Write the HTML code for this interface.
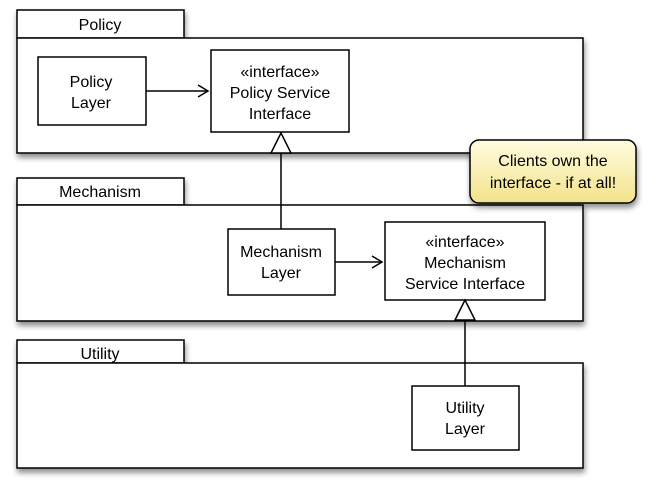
<!DOCTYPE html>
<html><head><style>
body{margin:0;width:653px;height:491px;background:#fff;overflow:hidden}
</style></head><body>
<svg width="653" height="491" xmlns="http://www.w3.org/2000/svg" font-family="Liberation Sans, Arial, sans-serif" font-size="16" text-anchor="middle">
<defs>
<filter id="sh" x="-10%" y="-10%" width="130%" height="140%"><feDropShadow dx="1" dy="4" stdDeviation="3" flood-color="#000" flood-opacity="0.45"/></filter>
<linearGradient id="yg" x1="0" y1="0" x2="0" y2="1"><stop offset="0" stop-color="#fffce0"/><stop offset="1" stop-color="#f3e28a"/></linearGradient>
</defs>
<g stroke="#000" stroke-width="1.5" fill="#fff" filter="url(#sh)">
<rect x="17" y="10" width="167" height="28"/><rect x="17" y="38" width="566" height="115"/>
<rect x="17" y="178" width="167" height="27"/><rect x="17" y="205" width="566" height="116"/>
<rect x="17" y="340" width="167" height="23"/><rect x="17" y="363" width="566" height="105"/>
</g>
<g stroke="#000" stroke-width="1.5" fill="#fff">
<rect x="38" y="57" width="108" height="68"/>
<rect x="211" y="50" width="138" height="82"/>
<rect x="228" y="229" width="107" height="66"/>
<rect x="385" y="222" width="160" height="78"/>
<rect x="412" y="386" width="107" height="64"/>
<line x1="146" y1="91" x2="208" y2="91"/><polyline points="198,85 208,91 198,97" fill="none"/>
<line x1="335" y1="262" x2="382" y2="262"/><polyline points="372,256 382,262 372,268" fill="none"/>
<line x1="281" y1="153" x2="281" y2="229"/><polygon points="281,133 271,153 291,153"/>
<line x1="465" y1="320" x2="465" y2="386"/><polygon points="465,300 455,320 475,320"/>
</g>
<rect x="470" y="140" width="166" height="63" rx="9" fill="url(#yg)" stroke="#000" stroke-width="1.5" filter="url(#sh)"/>
<g fill="#000">
<text x="100" y="30">Policy</text>
<text x="100" y="197">Mechanism</text>
<text x="100" y="359">Utility</text>
<text x="91" y="87">Policy</text><text x="91" y="108">Layer</text>
<text x="280" y="77">«interface»</text><text x="280" y="98">Policy Service</text><text x="280" y="119">Interface</text>
<text x="281" y="257">Mechanism</text><text x="281" y="278">Layer</text>
<text x="465" y="247">«interface»</text><text x="465" y="268">Mechanism</text><text x="465" y="289">Service Interface</text>
<text x="465" y="413">Utility</text><text x="465" y="434">Layer</text>
<text x="553" y="166">Clients own the</text><text x="553" y="188">interface - if at all!</text>
</g>
</svg>
</body></html>
